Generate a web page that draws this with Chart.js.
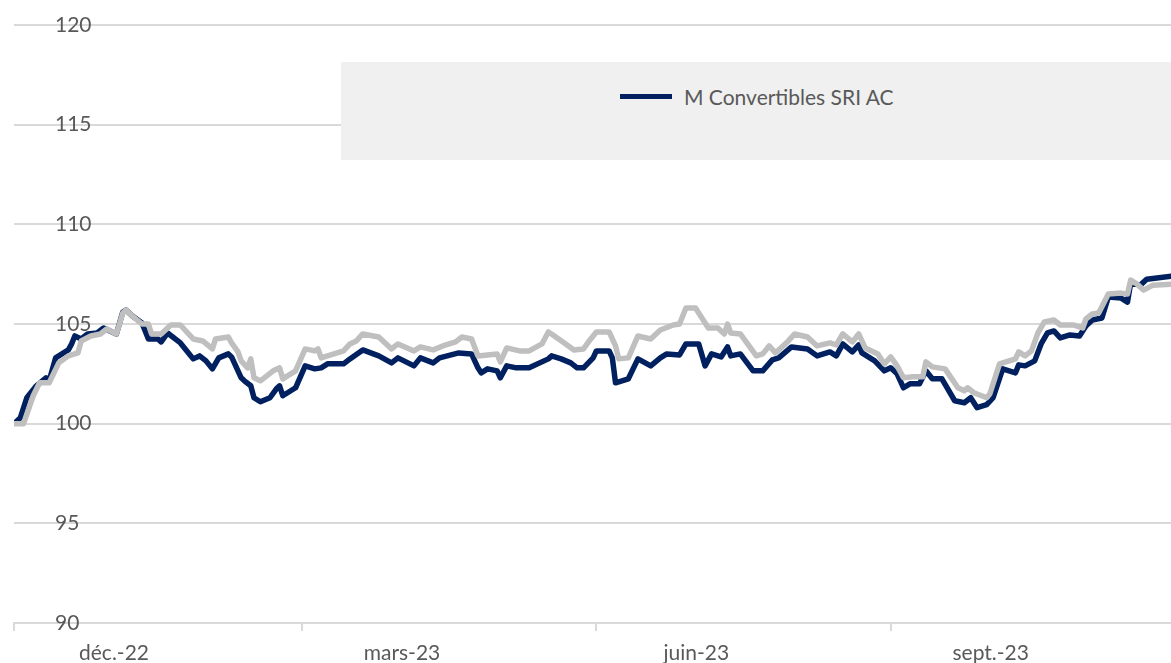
<!DOCTYPE html>
<html lang="fr">
<head>
<meta charset="utf-8">
<script src="https://cdn.jsdelivr.net/npm/chart.js@4.4.0/dist/chart.umd.min.js"></script>
<style>
  body { margin: 0; background: #fff; }
  #cadre { position: relative; width: 1171px; height: 663px; overflow: hidden; }
  #legende {
    position: absolute; left: 341px; top: 62px; width: 830px; height: 98px;
    background: #f0f0f0; font-family: Lato, sans-serif; font-size: 21px; color: #595959;
  }
  .entree { position: absolute; left: 279px; top: 22px; display: flex; align-items: center; white-space: nowrap; }
  .trait { width: 52px; height: 5px; margin-right: 12px; }
</style>
</head>
<body>
<div id="cadre">
  <canvas id="graphique"></canvas>
  <div id="legende"></div>
</div>
<script>
// jours depuis le 1er décembre 2022
const moisTicks = [0, 90, 182, 274];
const moisLabels = ['déc.-22', 'mars-23', 'juin-23', 'sept.-23'];

const joursFonds = [0, 2, 4, 7, 10, 11, 13, 17, 18, 19, 21, 23, 26, 28, 32, 34, 35, 37, 40, 42,
  45, 46, 48, 52, 56, 58, 60, 62, 64, 67, 68, 71, 72, 74, 75, 77, 80, 82, 83, 84,
  88, 91, 94, 96, 98, 103, 105, 109, 114, 118, 120, 125, 127, 131, 133, 139, 143, 145, 146, 148,
  151, 152, 154, 157, 161, 167, 168, 171, 174, 176, 178, 181, 182, 186, 187, 188, 192, 195, 199, 202,
  204, 208, 210, 214, 216, 218, 221, 223, 224, 227, 231, 234, 237, 239, 243, 248, 251, 255, 257, 259,
  262, 264, 265, 269, 272, 274, 276, 278, 280, 283, 285, 287, 290, 294, 297, 299, 301, 304, 306, 309,
  313, 314, 316, 319, 321, 323, 325, 327, 330, 333, 335, 337, 340, 342, 346, 348, 349, 352, 354, 362];
const valeursFonds = [100.0, 100.3, 101.3, 101.9, 102.3, 102.15, 103.3, 103.7, 104.0, 104.4, 104.25, 104.5, 104.55, 104.8, 104.5, 105.6, 105.7, 105.4, 105.05, 104.25,
  104.25, 104.1, 104.55, 104.05, 103.25, 103.4, 103.15, 102.75, 103.3, 103.5, 103.35, 102.3, 102.15, 101.9, 101.3, 101.1, 101.3, 101.75, 101.9, 101.4,
  101.8, 102.9, 102.75, 102.8, 103.0, 103.0, 103.25, 103.7, 103.4, 103.05, 103.3, 102.9, 103.3, 103.05, 103.3, 103.55, 103.5, 102.8, 102.55, 102.75,
  102.65, 102.3, 102.9, 102.8, 102.8, 103.25, 103.4, 103.25, 103.05, 102.8, 102.8, 103.3, 103.65, 103.65, 103.3, 102.05, 102.25, 103.25, 102.9, 103.3,
  103.5, 103.45, 104.0, 104.0, 102.9, 103.5, 103.35, 103.85, 103.4, 103.5, 102.65, 102.65, 103.2, 103.3, 103.85, 103.75, 103.4, 103.6, 103.4, 104.0,
  103.6, 103.95, 103.55, 103.15, 102.65, 102.8, 102.5, 101.8, 102.0, 102.0, 102.65, 102.25, 102.25, 101.15, 101.05, 101.3, 100.8, 100.95, 101.3, 102.75,
  102.55, 102.95, 102.9, 103.15, 104.0, 104.55, 104.65, 104.3, 104.45, 104.4, 104.9, 105.2, 105.3, 106.35, 106.3, 106.1, 107.05, 106.95, 107.25, 107.4];

const joursIndice = [0, 3, 6, 8, 11, 14, 17, 20, 21, 24, 27, 29, 32, 34, 35, 37, 40, 42, 43, 46,
  49, 52, 56, 59, 62, 63, 67, 68, 70, 71, 73, 74, 75, 77, 81, 83, 84, 88, 91, 94,
  95, 96, 103, 105, 107, 109, 114, 118, 120, 125, 127, 131, 134, 138, 140, 143, 145, 151, 152, 154,
  158, 161, 165, 167, 168, 172, 175, 178, 180, 182, 186, 188, 189, 192, 195, 199, 202, 206, 208, 210,
  213, 217, 220, 222, 223, 224, 227, 232, 234, 236, 238, 242, 244, 248, 251, 255, 257, 259, 262, 264,
  266, 270, 272, 274, 276, 278, 281, 284, 285, 287, 291, 295, 297, 298, 300, 304, 305, 308, 312, 313,
  314, 316, 318, 320, 322, 325, 327, 331, 334, 335, 337, 339, 342, 346, 348, 349, 351, 353, 356, 362];
const valeursIndice = [100.0, 100.0, 101.4, 102.05, 102.05, 103.05, 103.4, 103.55, 104.15, 104.4, 104.5, 104.75, 104.5, 105.55, 105.7, 105.4, 105.0, 105.0, 104.5, 104.5,
  104.95, 104.95, 104.25, 104.15, 103.75, 104.25, 104.35, 104.05, 103.6, 103.15, 102.8, 103.25, 102.3, 102.15, 102.65, 102.8, 102.25, 102.65, 103.75, 103.65,
  103.75, 103.3, 103.65, 104.0, 104.15, 104.5, 104.35, 103.75, 104.0, 103.65, 103.85, 103.7, 103.9, 104.1, 104.35, 104.25, 103.4, 103.5, 103.1, 103.8,
  103.65, 103.65, 104.0, 104.6, 104.5, 104.05, 103.7, 103.75, 104.2, 104.6, 104.6, 103.9, 103.25, 103.3, 104.4, 104.25, 104.7, 104.95, 105.0, 105.8,
  105.8, 104.8, 104.8, 104.5, 105.0, 104.55, 104.5, 103.4, 103.5, 103.9, 103.55, 104.15, 104.5, 104.35, 103.9, 104.05, 103.95, 104.5, 104.1, 104.5,
  103.8, 103.5, 103.0, 103.35, 102.9, 102.3, 102.35, 102.35, 103.1, 102.85, 102.75, 101.8, 101.65, 101.8, 101.55, 101.3, 101.5, 103.0, 103.2, 103.25,
  103.6, 103.4, 103.65, 104.55, 105.1, 105.2, 104.95, 104.95, 104.8, 105.25, 105.5, 105.55, 106.5, 106.55, 106.5, 107.2, 107.0, 106.7, 106.95, 107.0];

const police = { family: 'Lato, sans-serif', size: 21 };
const gris = '#595959';

function enPoints(jours, valeurs) {
  return jours.map((j, i) => ({ x: j, y: valeurs[i] }));
}

const legendeHtml = {
  id: 'legendeHtml',
  afterUpdate(chart) {
    const boite = document.getElementById('legende');
    boite.innerHTML = '';
    chart.data.datasets.filter(d => d.dansLegende).forEach(d => {
      const entree = document.createElement('div');
      entree.className = 'entree';
      const trait = document.createElement('span');
      trait.className = 'trait';
      trait.style.background = d.borderColor;
      const texte = document.createElement('span');
      texte.textContent = d.label;
      entree.appendChild(trait);
      entree.appendChild(texte);
      boite.appendChild(entree);
    });
  }
};

const graphique = new Chart(document.getElementById('graphique'), {
  type: 'line',
  data: {
    datasets: [{
      label: 'M Convertibles SRI AC',
      data: enPoints(joursFonds, valeursFonds),
      borderColor: '#002060',
      borderWidth: 5.5,
      pointRadius: 0,
      borderJoinStyle: 'round',
      order: 1,
      dansLegende: true
    }, {
      label: 'Indice',
      data: enPoints(joursIndice, valeursIndice),
      borderColor: '#bfbfbf',
      borderWidth: 5.5,
      pointRadius: 0,
      borderJoinStyle: 'round',
      order: 0,
      dansLegende: false
    }]
  },
  options: {
    responsive: true,
    maintainAspectRatio: false,
    animation: false,
    layout: { padding: { top: 25, left: 0, right: 0, bottom: 0 } },
    plugins: { legend: { display: false }, tooltip: { enabled: false } },
    scales: {
      x: {
        type: 'linear',
        min: 0,
        max: 361.6,
        afterBuildTicks: s => { s.ticks = moisTicks.map(v => ({ value: v })); },
        afterFit: s => { s.height = 40; s.paddingLeft = 0; s.paddingRight = 0; },
        ticks: {
          callback: (v, i) => moisLabels[i],
          autoSkip: false,
          maxRotation: 0,
          labelOffset: 100,
          padding: 10,
          color: gris,
          font: police
        },
        grid: { drawOnChartArea: false, drawTicks: true, tickLength: 8, color: '#d9d9d9', lineWidth: 2 },
        border: { display: true, color: '#d9d9d9', width: 2 }
      },
      y: {
        min: 90,
        max: 120,
        afterFit: s => { s.width = 14; s.paddingTop = 0; s.paddingBottom = 0; },
        ticks: { stepSize: 5, mirror: true, padding: 41, color: gris, font: police },
        grid: { color: '#d9d9d9', lineWidth: 2, drawTicks: false },
        border: { display: false }
      }
    }
  },
  plugins: [legendeHtml]
});
</script>
</body>
</html>
